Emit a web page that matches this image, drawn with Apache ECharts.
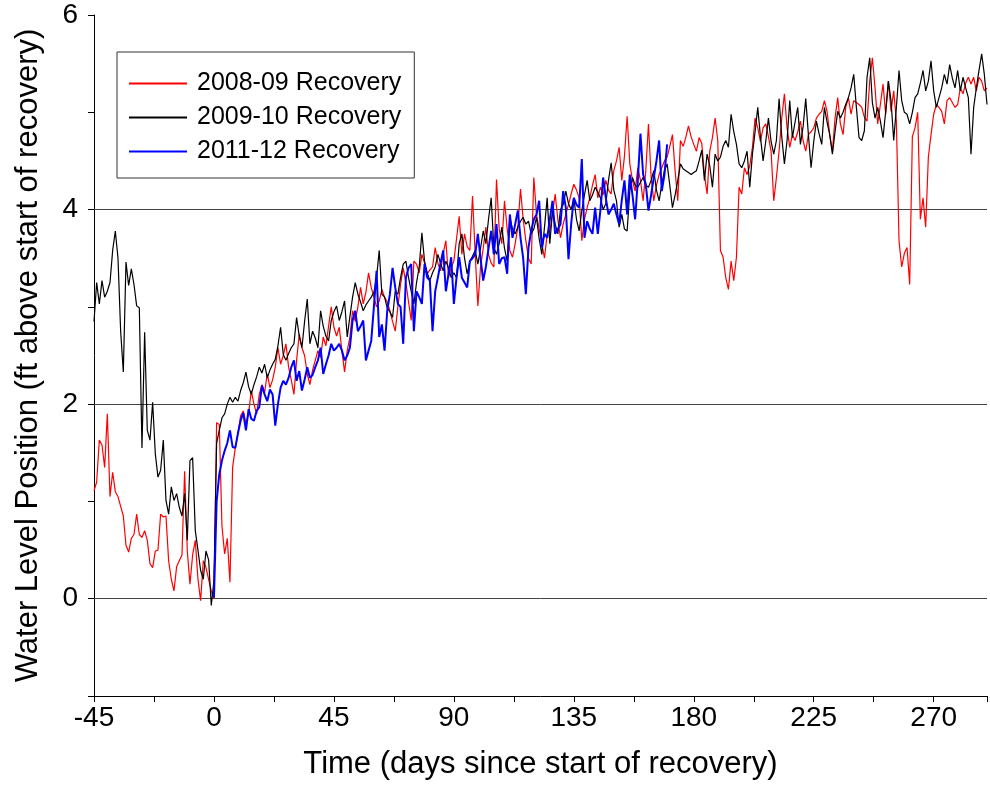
<!DOCTYPE html>
<html>
<head>
<meta charset="utf-8">
<script src="https://cdn.jsdelivr.net/npm/echarts@6/dist/echarts.min.js"></script>
<style>
html,body{margin:0;padding:0;background:#fff;}
#c{width:990px;height:785px;}
</style>
</head>
<body>
<div id="c"></div>
<script>
// Day of first value of each array; values are one per day.
const redStart = -45;
const red_pre = [1.11,1.20,1.63,1.58,1.35,1.90,1.05,1.30,1.10,1.05,
 0.95,0.85,0.55,0.48,0.62,0.66,0.87,0.66,0.63,0.70,
 0.60,0.36,0.32,0.49,0.50,0.87,0.84,0.85,0.39,0.20,
 0.08,0.33,0.39,0.45,1.31,0.49,0.15,0.45,0.60,0.20,
 -0.02,0.39,0.32,0.20,0.08,0.00];
const red_a = [1.81,1.79,0.75,0.46,0.62,0.17,1.35,1.55,1.70,1.88,
 1.93,1.80,1.90,2.14,2.00,1.90,2.10,2.20,2.12,2.31,
 2.17,2.25,2.38,2.58,2.41,2.50,2.62,2.38,2.25,2.10,
 2.45,2.72,2.58,2.50,2.31,2.20,2.35,2.45,2.55,2.48,
 2.69,2.60,2.80,3.00,2.79,2.70,2.79,2.55,2.33,2.55,
 2.69,2.96,2.85,3.00,3.20,3.03,3.15,3.35,3.20,3.10];
const red_b = [3.00,3.06,3.18,3.10,3.05,2.96,2.85,2.75,3.00,3.23,
 3.40,3.25,3.05,2.86,3.47,3.44,3.35,3.54,3.45,3.34,
 3.38,3.41,3.61,3.45,3.37,3.55,3.68,3.30,3.40,3.47,
 3.70,3.93,3.54,3.75,3.62,3.58,4.14,3.54,3.01,3.41,
 3.60,3.82,3.54,3.45,3.41,4.31,3.80,3.65,4.09,3.80,
 3.58,3.51,3.65,3.82,4.21,3.90,3.68,3.50,3.44,4.33];
const red_c = [3.95,3.80,3.65,3.50,3.75,3.78,3.95,4.16,3.90,3.71,
 3.85,3.95,4.05,4.16,4.26,4.20,4.12,3.68,3.90,4.02,
 4.12,4.25,4.36,4.12,4.23,4.15,4.30,4.20,4.16,4.40,
 4.50,4.64,4.30,4.55,4.96,4.47,4.30,4.19,4.43,4.30,
 4.09,4.40,4.88,4.33,4.09,4.25,4.36,4.43,4.50,4.54,
 4.65,4.77,4.40,4.09,4.71,4.65,4.74,4.86,4.75,4.67];
const red_d = [4.60,4.74,4.68,4.36,4.16,4.60,4.74,4.94,4.71,3.58,
 3.51,3.30,3.18,3.47,3.27,3.51,4.23,4.16,4.43,4.36,
 4.45,4.64,4.94,4.84,4.70,4.84,4.88,4.75,4.60,4.09,
 4.33,4.60,4.94,5.19,4.84,4.64,4.77,4.71,4.80,4.91,
 4.71,4.60,4.77,4.80,4.84,4.94,4.98,5.01,5.12,5.01,
 4.77,4.60,4.94,5.15,4.88,4.77,5.05,5.15,4.98,5.12];
const red_e = [5.10,5.08,5.05,4.95,4.91,5.32,5.56,5.25,4.88,5.08,
 5.29,4.98,5.32,5.01,5.22,4.91,3.68,3.41,3.55,3.61,
 3.23,4.75,4.84,5.00,3.90,4.12,3.82,4.54,4.77,4.98,
 5.08,5.05,5.01,4.88,5.12,5.15,5.10,5.05,5.08,5.25,
 5.19,5.30,5.36,5.29,5.36,5.22,5.36,5.32,5.22,5.25];

const blackStart = -45;
const black_pre = [2.85,3.25,3.03,3.27,3.10,3.16,3.25,3.58,3.78,3.50,
 2.75,2.33,3.46,3.22,3.39,3.23,3.01,2.99,1.55,2.74,
 1.73,1.63,2.02,1.49,1.25,1.32,1.63,1.01,0.87,1.15,
 1.01,1.08,0.94,0.85,1.08,0.60,1.42,1.45,0.70,0.50,
 0.29,0.20,0.49,0.40,-0.07,0.19];
const black_a = [1.60,1.73,1.86,1.90,2.00,2.07,2.02,2.07,2.03,2.14,
 2.22,2.33,2.18,2.10,2.20,2.28,2.38,2.32,2.41,2.27,
 2.35,2.41,2.46,2.60,2.79,2.51,2.45,2.52,2.58,2.62,
 2.89,2.70,2.58,2.85,3.08,2.62,2.75,2.68,2.58,2.96,
 2.80,2.70,2.65,2.86,2.95,3.01,2.86,2.95,3.06,2.69,
 2.90,3.10,3.25,3.13,3.05,2.96,3.02,3.06,3.10,3.15];
const black_b = [3.30,3.58,3.13,3.10,2.99,2.95,2.89,3.16,3.13,3.30,
 3.44,3.47,3.30,3.16,3.03,3.25,3.41,3.76,3.47,3.35,
 3.27,3.35,3.41,3.54,3.45,3.37,3.47,3.40,3.30,3.35,
 3.30,3.65,3.75,3.50,3.34,3.47,3.52,3.58,3.44,3.60,
 3.78,3.65,3.90,4.12,3.61,3.54,3.65,3.82,3.60,3.47,
 3.92,3.80,3.75,3.82,3.88,3.92,3.85,3.88,3.75,3.80];
const black_c = [3.92,3.70,3.54,3.82,4.12,3.65,3.99,3.85,3.75,4.00,
 4.05,4.19,4.06,4.00,4.12,3.90,3.78,3.99,4.15,4.30,
 4.09,4.15,4.23,4.18,4.12,4.00,4.06,4.30,4.48,4.20,
 4.09,3.82,3.95,3.80,3.78,4.19,4.33,4.25,4.23,4.28,
 4.33,4.25,4.23,4.30,4.40,4.20,4.09,4.26,4.40,4.47,
 4.25,4.02,4.15,4.30,4.47,4.42,4.40,4.38,4.36,4.38];
const black_d = [4.40,4.50,4.61,4.30,4.57,4.45,4.23,4.57,4.50,4.54,
 4.65,4.71,4.64,4.98,4.80,4.67,4.47,4.43,4.50,4.60,
 4.23,4.57,4.80,5.05,4.75,4.50,4.70,4.94,4.70,4.57,
 4.71,5.14,4.75,4.47,4.71,5.12,4.74,4.90,5.05,4.67,
 4.85,5.14,4.77,4.43,4.70,4.91,4.78,4.67,5.05,4.90,
 4.77,4.57,4.80,5.01,4.94,5.00,5.08,5.15,5.25,5.39];
const black_e = [5.05,4.74,4.71,4.81,5.36,5.56,5.10,4.94,5.05,4.91,
 4.74,5.01,5.32,5.12,4.71,5.05,5.43,5.12,5.00,4.98,
 4.88,5.00,5.15,5.19,5.30,5.43,5.22,5.32,5.53,5.22,
 5.05,5.15,5.25,5.39,5.29,5.49,5.35,5.25,5.43,5.22,
 5.36,5.25,5.15,4.57,5.05,5.25,5.43,5.60,5.39,5.08];

const blueStart = 0;
const blue_a = [0.01,1.00,1.28,1.42,1.52,1.60,1.73,1.56,1.55,1.70,
 1.83,1.91,1.73,1.95,1.85,1.83,1.93,1.97,2.19,2.10,
 2.03,2.15,2.10,1.78,2.00,2.17,2.24,2.20,2.27,2.38,
 2.45,2.24,2.34,2.14,2.25,2.38,2.27,2.30,2.38,2.45,
 2.58,2.31,2.41,2.50,2.62,2.55,2.58,2.62,2.55,2.45,
 2.50,2.58,2.86,2.96,2.75,2.80,2.86,2.45,2.55,2.65];
const blue_b = [3.00,3.37,2.69,2.82,2.55,2.96,3.13,3.40,3.20,3.03,
 3.00,2.62,3.30,3.40,3.44,2.75,3.16,3.10,3.03,3.44,
 3.30,3.27,2.75,3.16,3.30,3.45,3.58,3.16,3.34,3.51,
 3.03,3.30,3.51,3.30,3.25,3.20,3.47,3.50,3.54,3.75,
 3.50,3.27,3.41,3.60,3.78,3.54,3.85,3.44,3.50,3.51,
 3.34,3.95,3.71,3.85,3.99,3.71,3.50,3.13,3.61,3.78];
const blue_c = [3.90,3.95,4.09,3.61,3.75,3.71,3.90,4.09,3.75,3.80,
 3.85,4.19,4.02,3.49,3.85,4.12,4.05,4.02,4.52,3.71,
 3.88,3.80,3.75,4.02,3.75,4.00,4.33,4.12,3.95,4.00,
 4.06,3.95,3.85,4.10,4.30,3.95,4.36,4.15,3.90,4.30,
 4.78,4.36,4.26,3.99,4.15,4.33,4.50,4.71,4.19,4.36,
 4.67];

const seriesNames = ['2008-09 Recovery','2009-10 Recovery','2011-12 Recovery'];
const seriesColors = ['#ff0000','#000000','#0000ff'];
const gridValues = [0, 2, 4];

function build(start, vals){ return vals.map((v,i)=>[start+i, v]); }
const redData = build(redStart, red_pre.concat(red_a, red_b, red_c, red_d, red_e));
const blackData = build(blackStart, black_pre.concat(black_a, black_b, black_c, black_d, black_e));
const blueData = build(blueStart, blue_a.concat(blue_b, blue_c));

const FF = "'Liberation Sans', Arial, Helvetica, sans-serif";
const chart = echarts.init(document.getElementById('c'), null, {renderer:'canvas'});
chart.setOption({
  animation:false,
  backgroundColor:'#ffffff',
  grid:{left:94, top:15, right:0, bottom:89, containLabel:false},
  legend:{
    orient:'vertical', left:117, top:52,
    data:seriesNames,
    selectedMode:false,
    itemWidth:58, itemHeight:14, itemGap:9,
    itemStyle:{opacity:0},
    padding:[19,13,14,11],
    borderColor:'#333', borderWidth:1,
    textStyle:{fontSize:25, color:'#000', fontFamily:FF, padding:[0,0,0,5]}
  },
  xAxis:{
    type:'value', min:-45, max:290, interval:22.5,
    axisLine:{show:true, onZero:false, lineStyle:{color:'#000', width:1}},
    axisTick:{show:true, length:6, lineStyle:{color:'#000', width:1}},
    axisLabel:{fontSize:28, color:'#000', fontFamily:FF, margin:8,
      formatter:function(v){ return (Math.abs(v % 45) < 1e-9) ? String(v) : ''; }},
    splitLine:{show:false},
    name:'Time (days since start of recovery)', nameLocation:'middle', nameGap:53,
    nameTextStyle:{fontSize:31, color:'#000', fontFamily:FF}
  },
  yAxis:{
    type:'value', min:-1, max:6, interval:1,
    axisLine:{show:true, onZero:false, lineStyle:{color:'#000', width:1}},
    axisTick:{show:true, length:6, lineStyle:{color:'#000', width:1}},
    axisLabel:{fontSize:28, color:'#000', fontFamily:FF, margin:16,
      formatter:function(v){ return (v >= 0 && v % 2 === 0) ? String(v) : ''; }},
    splitLine:{show:false},
    name:'Water Level Position (ft above start of recovery)', nameLocation:'middle', nameGap:50,
    nameTextStyle:{fontSize:31, color:'#000', fontFamily:FF}
  },
  series:[
    {name:'gridlines', type:'line', data:[], symbol:'none', z:1, silent:true,
     markLine:{silent:true, symbol:'none', z:1, label:{show:false}, animation:false,
       lineStyle:{color:'#444', width:1, type:'solid'},
       emphasis:{disabled:true},
       data:gridValues.map(v=>({yAxis:v}))}},
    {name:seriesNames[0], type:'line', data:redData, symbol:'none', showSymbol:false, z:2,
     color:seriesColors[0],
     lineStyle:{color:seriesColors[0], width:1.2}, itemStyle:{color:seriesColors[0]}},
    {name:seriesNames[1], type:'line', data:blackData, symbol:'none', showSymbol:false, z:3,
     color:seriesColors[1],
     lineStyle:{color:seriesColors[1], width:1.2}, itemStyle:{color:seriesColors[1]}},
    {name:seriesNames[2], type:'line', data:blueData, symbol:'none', showSymbol:false, z:4,
     color:seriesColors[2],
     lineStyle:{color:seriesColors[2], width:2}, itemStyle:{color:seriesColors[2]}}
  ]
});
</script>
</body>
</html>
